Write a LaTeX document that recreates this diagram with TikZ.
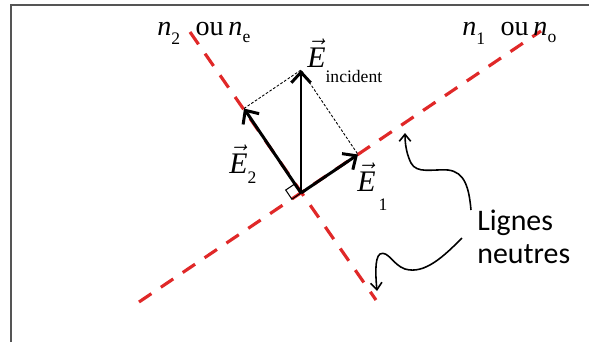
\documentclass[tikz,border=0pt]{standalone}
\usepackage{fontspec}
\setmainfont{Liberation Serif}
\newfontfamily\labelsans{Carlito}
\usetikzlibrary{arrows.meta}
\definecolor{axisred}{RGB}{224,40,40}
\definecolor{framegray}{RGB}{85,85,85}
% vector E with a lowered index
\newcommand{\vecE}[2]{$\vec{\mbox{\itshape E}}$\raisebox{#2}{\fontsize{10}{10}\selectfont #1}}

\begin{document}
\begin{tikzpicture}[x=0.02cm,y=-0.02cm,
  neutral/.style={axisred,line width=1.8pt,dash pattern=on 8.5pt off 6.5pt},
  vector/.style={line width=1.7pt,-{Straight Barb[length=6pt,width=11pt]}},
  proj/.style={line width=0.5pt,dash pattern=on 1.5pt off 1pt},
  curly/.style={line width=0.9pt,-{Straight Barb[length=4pt,width=6.5pt]}},
  nlabel/.style={inner sep=0pt,anchor=base west,font=\fontsize{16}{18}\selectfont},
  elabel/.style={inner sep=0pt,anchor=base west,font=\fontsize{17}{19}\selectfont}]
  \useasboundingbox (0,0) rectangle (589,342);
  \draw[framegray,line width=1.4pt] (11,342) -- (11,5) -- (589,5);
  % neutral lines
  \coordinate (O) at (301,193);
  \coordinate (a1) at (139,302);
  \coordinate (b1) at (541,31);
  \coordinate (a2) at (190,32);
  \coordinate (b2) at (376,300);
  \draw[neutral] (a1) -- (b1);
  \draw[neutral] (a2) -- (b2);
  % field and its two components
  \coordinate (Einc) at (301,70);
  \coordinate (E1) at (358,154.5);
  \coordinate (E2) at (244,108.5);
  \draw[proj] (E2) -- (Einc) -- (E1);
  \draw[line width=0.6pt] (O) -- ++(146:11) -- ++(236:11) -- ++(-34:11);
  \draw[vector] (O) -- (Einc);
  \draw[vector] (O) -- (E1);
  \draw[vector] (O) -- (E2);
  \node[elabel] (lEinc) at (307,67) {\vecE{incident}{-9pt}};
  \node[elabel] (lE2) at (229,173) {\vecE{2}{-5.7pt}};
  \node[elabel] (lE1) at (357,191) {\vecE{\,1}{-11pt}};
  \node[nlabel] (ln2) at (157,35) {\textit{n}\raisebox{-5.5pt}{\fontsize{10}{10}\selectfont 2}\hspace{0.55em}ou\,\textit{n}\raisebox{-4pt}{\fontsize{10}{10}\selectfont e}};
  \node[nlabel] (ln1) at (462,35) {\textit{n}\raisebox{-5.5pt}{\fontsize{10}{10}\selectfont 1}\hspace{0.55em}ou\,\textit{n}\raisebox{-4pt}{\fontsize{10}{10}\selectfont o}};
  \node[anchor=west,inner sep=0pt,align=left,font=\labelsans\fontsize{17}{18.7}\selectfont] (neutres) at (477,237) {Lignes\\neutres};
  % pointers to the neutral lines
  \coordinate (s1) at (471,210);
  \coordinate (t1) at (405,133);
  \coordinate (s2) at (462,238);
  \coordinate (t2) at (377,291);
  \draw[curly] (s1) .. controls (469,188) and (465,172) .. (448,170)
    .. controls (432,169) and (417,174) .. (411,163)
    .. controls (407,155) and (405,145) .. (t1);
  \draw[curly] (s2) .. controls (445,255) and (425,275) .. (405,269)
    .. controls (393,265) and (388,250) .. (380,254)
    .. controls (374,258) and (376,280) .. (t2);
\end{tikzpicture}
\end{document}
